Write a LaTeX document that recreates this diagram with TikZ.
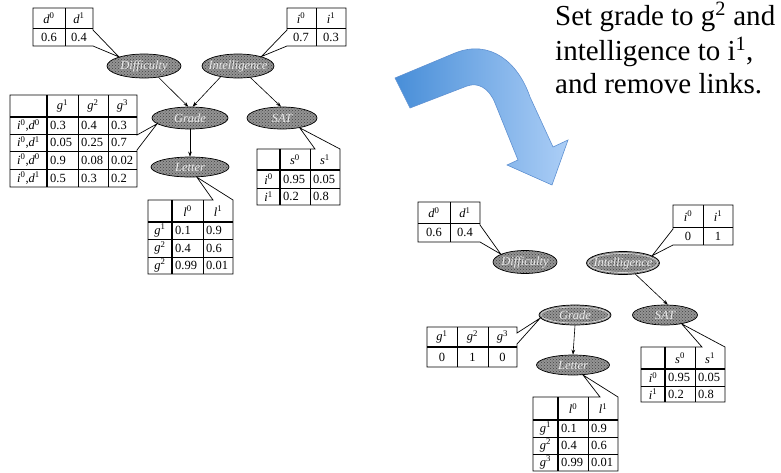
\documentclass[tikz,border=0pt]{standalone}
\usepackage{fontspec}
\setmainfont{Liberation Serif}
\usetikzlibrary{shapes.geometric,arrows.meta,patterns}
\newcommand\isup[2]{\textit{#1}\textsuperscript{#2}}
\definecolor{arrowdark}{RGB}{72,142,216}
\definecolor{arrowlight}{RGB}{172,206,246}
\definecolor{arrowedge}{RGB}{95,145,210}
\tikzset{
  bn/.style={ellipse, draw=black, line width=0.7pt, inner sep=0pt,
    preaction={fill=black!42}, pattern=crosshatch dots, pattern color=black!75},
  ring/.style={ellipse, draw=white!85!black, line width=0.7pt, inner sep=0pt},
  bnt/.style={inner sep=0pt, text=white!92!black, font=\fontsize{12.5}{12.5}\selectfont\itshape},
  tabl/.style={draw=black, line width=0.7pt, fill=white, line join=miter},
  tl/.style={line width=0.7pt},
  thk/.style={line width=1.5pt},
  cellc/.style={inner sep=0pt, font=\fontsize{12.5}{13}\selectfont},
  celll/.style={cellc, anchor=west},
  arr/.style={-{Stealth[length=5pt,width=3.6pt]}, line width=0.6pt},
  bigtext/.style={anchor=base west, inner sep=0pt, font=\fontsize{29}{34}\selectfont},
}
\begin{document}
\begin{tikzpicture}[x=1pt,y=-1pt]
\useasboundingbox (0,0) rectangle (781,472);
\fill[white] (0,0) rectangle (781,472);

% ---------------- left network: nodes ----------------
\node[bn, minimum width=74pt, minimum height=24pt] (diffL) at (144,66) {};
\node[bnt] (diffLt) at (diffL) {Difficulty};
\node[bn, minimum width=72pt, minimum height=24pt] (intL) at (238,66) {};
\node[bnt] (intLt) at (intL) {Intelligence};
\node[bn, minimum width=76pt, minimum height=22pt] (gradeL) at (190,118) {};
\node[bnt] (gradeLt) at (gradeL) {Grade};
\node[bn, minimum width=70pt, minimum height=22pt] (satL) at (282,118) {};
\node[bnt] (satLt) at (satL) {SAT};
\node[bn, minimum width=78pt, minimum height=20pt] (letterL) at (190,167) {};
\node[bnt] (letterLt) at (letterL) {Letter};

\draw[arr] (diffL.322) -- (gradeL.99);
\draw[arr] (intL.212) -- (gradeL.77);
\draw[arr] (intL.317) -- (satL.95);
\draw[arr] (gradeL.south) -- (letterL.north);

% D table
\draw[tabl] (33,8) -- (93,8) -- (93,30) -- (diffL.160) -- (93,46) -- (33,46) -- cycle;
\draw[tl] (33,28) -- (93,28) (65,8) -- (65,46);
\node[cellc] (dL1) at (49,18) {\isup{d}{0}};
\node[cellc] (dL2) at (79,18) {\isup{d}{1}};
\node[cellc] (dL3) at (49,37) {0.6};
\node[cellc] (dL4) at (79,37) {0.4};

% I table
\draw[tabl] (287,8) -- (346,8) -- (346,46) -- (287,46) -- (intL.22) -- (287,30) -- cycle;
\draw[tl] (287,28) -- (346,28) (316,8) -- (316,46);
\node[cellc] (iL1) at (301,18) {\isup{i}{0}};
\node[cellc] (iL2) at (331,18) {\isup{i}{1}};
\node[cellc] (iL3) at (301,37) {0.7};
\node[cellc] (iL4) at (331,37) {0.3};

% Grade table
\draw[tabl] (10,95) -- (137,95) -- (137,135) -- (gradeL.190) -- (137,150) -- (137,187) -- (10,187) -- cycle;
\draw[tl] (10,134) -- (137,134) (10,151) -- (137,151) (10,169) -- (137,169)
          (78,95) -- (78,187) (108,95) -- (108,187);
\draw[thk] (10,117) -- (137,117) (47,95) -- (47,187);
\node[cellc] (gL1) at (62.5,106) {\isup{g}{1}};
\node[cellc] (gL2) at (93,106) {\isup{g}{2}};
\node[cellc] (gL3) at (122.5,106) {\isup{g}{3}};
\node[cellc] (gLr1) at (28.5,125.5) {\isup{i}{0},\isup{d}{0}};
\node[cellc] (gLr2) at (28.5,142.5) {\isup{i}{0},\isup{d}{1}};
\node[cellc] (gLr3) at (28.5,160) {\isup{i}{0},\isup{d}{0}};
\node[cellc] (gLr4) at (28.5,178) {\isup{i}{0},\isup{d}{1}};
\node[celll] (gL11) at (50,125.5) {0.3};
\node[celll] (gL12) at (81,125.5) {0.4};
\node[celll] (gL13) at (111,125.5) {0.3};
\node[celll] (gL21) at (50,142.5) {0.05};
\node[celll] (gL22) at (81,142.5) {0.25};
\node[celll] (gL23) at (111,142.5) {0.7};
\node[celll] (gL31) at (50,160) {0.9};
\node[celll] (gL32) at (81,160) {0.08};
\node[celll] (gL33) at (111,160) {0.02};
\node[celll] (gL41) at (50,178) {0.5};
\node[celll] (gL42) at (81,178) {0.3};
\node[celll] (gL43) at (111,178) {0.2};

% SAT table
\draw[tabl] (257,149) -- (315,149) -- (satL.331) -- (340,149) -- (340,205) -- (257,205) -- cycle;
\draw[tl] (257,188) -- (340,188) (310,149) -- (310,205);
\draw[thk] (257,170) -- (340,170) (280,149) -- (280,205);
\node[cellc] (sL1) at (295,159.5) {\isup{s}{0}};
\node[cellc] (sL2) at (325,159.5) {\isup{s}{1}};
\node[cellc] (sLr1) at (268.5,179) {\isup{i}{0}};
\node[cellc] (sLr2) at (268.5,196.5) {\isup{i}{1}};
\node[celll] (sL11) at (283,179) {0.95};
\node[celll] (sL12) at (313,179) {0.05};
\node[celll] (sL21) at (283,196.5) {0.2};
\node[celll] (sL22) at (313,196.5) {0.8};

% Letter table
\draw[tabl] (148,200) -- (213,200) -- (letterL.304) -- (233,200) -- (233,274) -- (148,274) -- cycle;
\draw[tl] (148,239) -- (233,239) (148,257) -- (233,257) (203,200) -- (203,274);
\draw[thk] (148,222) -- (233,222) (172,200) -- (172,274);
\node[cellc] (lL1) at (187.5,211) {\isup{l}{0}};
\node[cellc] (lL2) at (218,211) {\isup{l}{1}};
\node[cellc] (lLr1) at (160,230.5) {\isup{g}{1}};
\node[cellc] (lLr2) at (160,248) {\isup{g}{2}};
\node[cellc] (lLr3) at (160,265.5) {\isup{g}{2}};
\node[celll] (lL11) at (175,230.5) {0.1};
\node[celll] (lL12) at (206,230.5) {0.9};
\node[celll] (lL21) at (175,248) {0.4};
\node[celll] (lL22) at (206,248) {0.6};
\node[celll] (lL31) at (175,265.5) {0.99};
\node[celll] (lL32) at (206,265.5) {0.01};

% ---------------- big arrow ----------------
\shade[left color=arrowdark, right color=arrowlight, draw=arrowedge, line width=0.6pt, line join=miter]
  (395,78) -- (455,53) .. controls (490,39) and (518,62) .. (530,97)
  -- (553,147) -- (568,140) -- (552,185) -- (507,165) -- (518,160)
  -- (495,103) .. controls (489,88) and (478,82) .. (467,86)
  -- (410,108) -- cycle;

% ---------------- text ----------------
\node[bigtext] (t1) at (555,25) {Set grade to g\textsuperscript{2} and};
\node[bigtext] (t2) at (555,60) {intelligence to i\textsuperscript{1},};
\node[bigtext] (t3) at (555,93) {and remove links.};

% ---------------- right network ----------------
\node[bn, minimum width=64pt, minimum height=23pt] (diffR) at (525,262) {};
\node[bnt] (diffRt) at (diffR) {Difficulty};
\node[bn, minimum width=73pt, minimum height=23pt] (intR) at (623,263) {};
\node[ring, minimum width=69pt, minimum height=19pt] (intRr) at (intR) {};
\node[bnt] (intRt) at (intR) {Intelligence};
\node[bn, minimum width=72pt, minimum height=20pt] (gradeR) at (575,315) {};
\node[ring, minimum width=68pt, minimum height=16pt] (gradeRr) at (gradeR) {};
\node[bnt] (gradeRt) at (gradeR) {Grade};
\node[bn, minimum width=65pt, minimum height=20pt] (satR) at (665,315) {};
\node[bnt] (satRt) at (satR) {SAT};
\node[bn, minimum width=73pt, minimum height=20pt] (letterR) at (573,365) {};
\node[bnt] (letterRt) at (letterR) {Letter};

\draw[arr] (intR.318) -- (satR.75);
\draw[arr] (gradeR.south) -- (letterR.north);

% D table
\draw[tabl] (418,202) -- (480,202) -- (480,225) -- (diffR.162) -- (480,242) -- (418,242) -- cycle;
\draw[tl] (418,223) -- (480,223) (450,202) -- (450,242);
\node[cellc] (dR1) at (434,212.5) {\isup{d}{0}};
\node[cellc] (dR2) at (465,212.5) {\isup{d}{1}};
\node[cellc] (dR3) at (434,232.5) {0.6};
\node[cellc] (dR4) at (465,232.5) {0.4};

% I table
\draw[tabl] (673,205) -- (733,205) -- (733,245) -- (673,245) -- (intR.14) -- (673,229) -- cycle;
\draw[tl] (673,227) -- (733,227) (703,205) -- (703,245);
\node[cellc] (iR1) at (688,216) {\isup{i}{0}};
\node[cellc] (iR2) at (718,216) {\isup{i}{1}};
\node[cellc] (iR3) at (688,236) {0};
\node[cellc] (iR4) at (718,236) {1};

% Grade table
\draw[tabl] (427,327) -- (517,327) -- (517,333) -- (gradeR.185) -- (517,344) -- (517,367) -- (427,367) -- cycle;
\draw[tl] (457,327) -- (457,367) (488,327) -- (488,367);
\draw[line width=1.1pt] (427,347) -- (517,347);
\node[cellc] (gR1) at (442,337) {\isup{g}{1}};
\node[cellc] (gR2) at (472.5,337) {\isup{g}{2}};
\node[cellc] (gR3) at (502.5,337) {\isup{g}{3}};
\node[cellc] (gR4) at (442,357) {0};
\node[cellc] (gR5) at (472.5,357) {1};
\node[cellc] (gR6) at (502.5,357) {0};

% SAT table
\draw[tabl] (641,347) -- (702,347) -- (satR.332) -- (725,347) -- (725,402) -- (641,402) -- cycle;
\draw[tl] (641,386) -- (725,386) (695,347) -- (695,402);
\draw[thk] (641,369) -- (725,369) (665,347) -- (665,402);
\node[cellc] (sR1) at (680,358) {\isup{s}{0}};
\node[cellc] (sR2) at (710,358) {\isup{s}{1}};
\node[cellc] (sRr1) at (653,377.5) {\isup{i}{0}};
\node[cellc] (sRr2) at (653,394) {\isup{i}{1}};
\node[celll] (sR11) at (668,377.5) {0.95};
\node[celll] (sR12) at (698,377.5) {0.05};
\node[celll] (sR21) at (668,394) {0.2};
\node[celll] (sR22) at (698,394) {0.8};

% Letter table
\draw[tabl] (533,397) -- (600,397) -- (letterR.315) -- (618,397) -- (618,471) -- (533,471) -- cycle;
\draw[tl] (533,437) -- (618,437) (533,454) -- (618,454) (588,397) -- (588,471);
\draw[thk] (533,420) -- (618,420) (558,397) -- (558,471);
\node[cellc] (lR1) at (573,408.5) {\isup{l}{0}};
\node[cellc] (lR2) at (603,408.5) {\isup{l}{1}};
\node[cellc] (lRr1) at (545.5,428.5) {\isup{g}{1}};
\node[cellc] (lRr2) at (545.5,445.5) {\isup{g}{2}};
\node[cellc] (lRr3) at (545.5,462.5) {\isup{g}{3}};
\node[celll] (lR11) at (561,428.5) {0.1};
\node[celll] (lR12) at (591,428.5) {0.9};
\node[celll] (lR21) at (561,445.5) {0.4};
\node[celll] (lR22) at (591,445.5) {0.6};
\node[celll] (lR31) at (561,462.5) {0.99};
\node[celll] (lR32) at (591,462.5) {0.01};
\end{tikzpicture}
\end{document}
